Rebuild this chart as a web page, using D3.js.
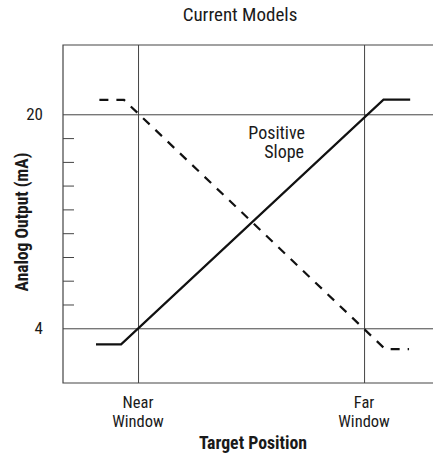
<!DOCTYPE html>
<html>
<head>
<meta charset="utf-8">
<script src="https://cdn.jsdelivr.net/npm/d3@7"></script>
<style>
  body { margin: 0; background: #fff; }
  svg text { font-family: "Liberation Sans Narrow", "Roboto Condensed", "DejaVu Sans Condensed", "Liberation Sans", sans-serif; fill: #1a1a1a; }
</style>
</head>
<body>
<div id="chart"></div>
<script>
// positions: 0 = near window, 1 = far window
var windowTicks = [0, 1];
var windowLabels = [["Near", "Window"], ["Far", "Window"]];
var outputTicks = [4, 20];
var minorTicks = [5.78, 7.56, 9.33, 11.11, 12.89, 14.67, 16.44, 18.22];

var positiveX = [-0.186, -0.075, 1.086, 1.204];
var positiveY = [2.80, 2.80, 21.09, 21.09];
var negativeX = [-0.171, -0.062, 1.093, 1.199];
var negativeY = [21.07, 21.07, 2.45, 2.45];

var svgWidth = 433, svgHeight = 455;
var margin = { top: 45, right: 0, bottom: 72, left: 63 };
var width = svgWidth - margin.left - margin.right;
var height = svgHeight - margin.top - margin.bottom;

var svg = d3.select("#chart").append("svg")
    .attr("width", svgWidth)
    .attr("height", svgHeight);

var chartGroup = svg.append("g")
    .attr("transform", `translate(${margin.left}, ${margin.top})`);

var xScale = d3.scaleLinear().domain([-0.332, 1.305]).range([0, width]);
var yScale = d3.scaleLinear().domain([-0.09, 25.18]).range([height, 0]);

// horizontal grid at 4 and 20
chartGroup.append("g")
    .call(d3.axisLeft(yScale).tickValues(outputTicks).tickSize(-width).tickFormat(""))
    .call(g => g.select(".domain").remove())
    .selectAll("line").attr("stroke", "#444").attr("stroke-width", 1);

// vertical grid at the windows
chartGroup.append("g")
    .attr("transform", `translate(0, ${height})`)
    .call(d3.axisBottom(xScale).tickValues(windowTicks).tickSize(height).tickFormat(""))
    .call(g => g.select(".domain").remove())
    .selectAll("line").attr("stroke", "#444").attr("stroke-width", 1)
    .attr("y2", -height);

// minor ticks on the left edge
chartGroup.append("g")
    .call(d3.axisLeft(yScale).tickValues(minorTicks).tickSize(-11).tickFormat(""))
    .call(g => g.select(".domain").remove())
    .selectAll("line").attr("stroke", "#444").attr("stroke-width", 1);

// frame: left, top, bottom
chartGroup.append("path")
    .attr("d", `M${width},0H0V${height}H${width}`)
    .attr("fill", "none")
    .attr("stroke", "#444")
    .attr("stroke-width", 1.2);

// y labels
var yAxis = chartGroup.append("g")
    .call(d3.axisLeft(yScale).tickValues(outputTicks).tickSize(0).tickPadding(20));
yAxis.select(".domain").remove();
yAxis.selectAll("text")
    .style("font-size", "17px")
    .style("font-family", null);

// x labels, one text per line
windowTicks.forEach((t, i) => {
    windowLabels[i].forEach((line, j) => {
        chartGroup.append("text")
            .attr("x", xScale(t))
            .attr("y", height + 25 + j * 19)
            .attr("text-anchor", "middle")
            .style("font-size", "16.5px")
            .text(line);
    });
});

var line = d3.line()
    .x(d => xScale(d[0]))
    .y(d => yScale(d[1]));

chartGroup.append("path")
    .datum(d3.zip(positiveX, positiveY))
    .attr("d", line)
    .attr("fill", "none")
    .attr("stroke", "#111")
    .attr("stroke-width", 2.2);

chartGroup.append("path")
    .datum(d3.zip(negativeX, negativeY))
    .attr("d", line)
    .attr("fill", "none")
    .attr("stroke", "#111")
    .attr("stroke-width", 2.2)
    .attr("stroke-dasharray", "9,8");

// Positive Slope note
chartGroup.append("text")
    .attr("x", 305 - margin.left)
    .attr("y", 139 - margin.top)
    .attr("text-anchor", "end")
    .style("font-size", "18px")
    .text("Positive");
chartGroup.append("text")
    .attr("x", 304 - margin.left)
    .attr("y", 158 - margin.top)
    .attr("text-anchor", "end")
    .style("font-size", "18px")
    .text("Slope");

// titles
svg.append("text")
    .attr("x", 240)
    .attr("y", 21)
    .attr("text-anchor", "middle")
    .style("font-size", "19px")
    .text("Current Models");

svg.append("text")
    .attr("x", 253)
    .attr("y", 449)
    .attr("text-anchor", "middle")
    .style("font-size", "17.8px")
    .style("font-weight", "bold")
    .text("Target Position");

svg.append("text")
    .attr("transform", `translate(28, 222) rotate(-90)`)
    .attr("text-anchor", "middle")
    .style("font-size", "17.5px")
    .style("font-weight", "bold")
    .text("Analog Output (mA)");
</script>
</body>
</html>
